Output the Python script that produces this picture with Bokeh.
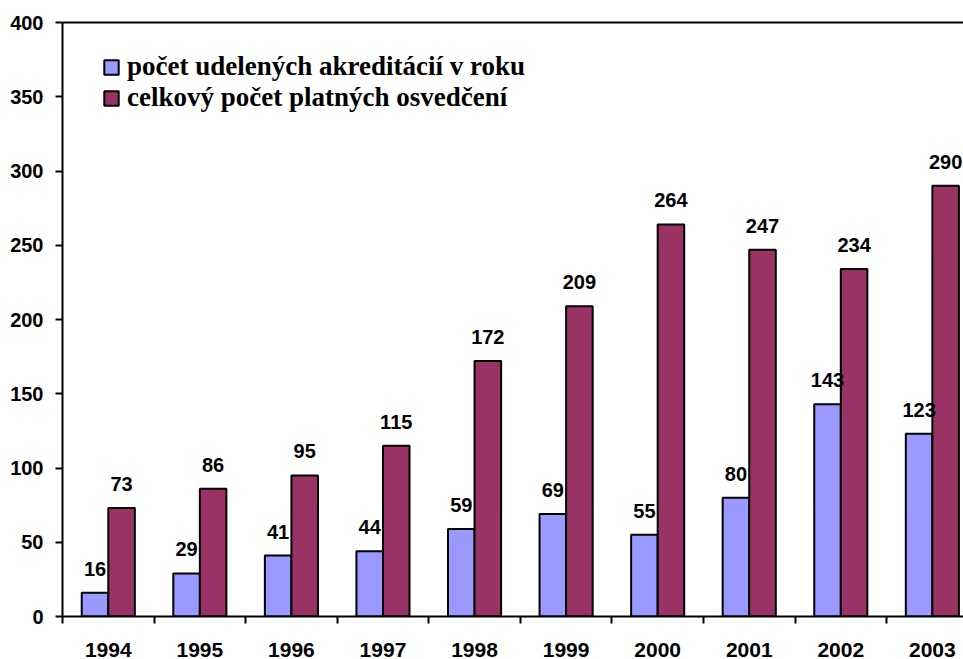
from bokeh.plotting import figure
from bokeh.models import (ColumnDataSource, Range1d, FixedTicker, LinearAxis,
                          CustomJSTickFormatter, LabelSet, Legend, LegendItem)
from bokeh.core.properties import value
from bokeh.embed import file_html
from bokeh.resources import INLINE

years = ["1994", "1995", "1996", "1997", "1998", "1999", "2000", "2001", "2002", "2003"]
accreditations = [16, 29, 41, 44, 59, 69, 55, 80, 143, 123]
certificates = [73, 86, 95, 115, 172, 209, 264, 247, 234, 290]
y_ticks = [0, 50, 100, 150, 200, 250, 300, 350, 400]
series_names = ["počet udelených akreditácií v roku", "celkový počet platných osvedčení"]
colors = ["#9999FF", "#993366"]

n = len(years)
centers = [i + 0.5 for i in range(n)]
bar_w = 0.29
src = ColumnDataSource(dict(
    xa=[c - bar_w / 2 for c in centers],
    xb=[c + bar_w / 2 for c in centers],
    a=accreditations, b=certificates,
    la=[str(v) for v in accreditations], lb=[str(v) for v in certificates],
))

p = figure(width=963, height=659, output_backend="svg", toolbar_location=None,
           x_range=Range1d(0, 9.84), y_range=Range1d(0, 400),
           min_border_left=62, min_border_right=0, min_border_top=22, min_border_bottom=41)
p.xgrid.visible = False
p.ygrid.visible = False
p.outline_line_color = None
p.background_fill_color = "white"

ra = p.vbar(x="xa", top="a", width=bar_w, source=src, fill_color=colors[0],
            line_color="black", line_width=2)
rb = p.vbar(x="xb", top="b", width=bar_w, source=src, fill_color=colors[1],
            line_color="black", line_width=2)

font = "Liberation Sans"
for col_x, col_y, col_t in (("xa", "a", "la"), ("xb", "b", "lb")):
    p.add_layout(LabelSet(x=col_x, y=col_y, text=col_t, source=src, y_offset=17,
                          text_align="center", text_baseline="alphabetic",
                          text_font=value(font), text_font_style="bold",
                          text_font_size="20px", text_color="black"))

# y axis
ya = p.yaxis[0]
ya.ticker = FixedTicker(ticks=y_ticks)
ya.axis_line_width = 2
ya.major_tick_line_width = 2
ya.major_tick_out = 7
ya.major_tick_in = 0
ya.minor_tick_line_color = None
ya.major_label_standoff = 12
ya.major_label_text_font = font
ya.major_label_text_font_style = "bold"
ya.major_label_text_font_size = "20px"
ya.major_label_text_color = "black"

# x axis
xa = p.xaxis[0]
xa.ticker = FixedTicker(ticks=centers, minor_ticks=list(range(n)))
xa.formatter = CustomJSTickFormatter(args=dict(years=years),
                                     code="return years[Math.floor(tick)] || '';")
xa.axis_line_width = 2
xa.major_tick_out = 0
xa.major_tick_in = 0
xa.minor_tick_out = 7
xa.minor_tick_in = 0
xa.minor_tick_line_width = 2
xa.minor_tick_line_color = "black"
xa.major_label_standoff = 19
xa.major_label_text_font = font
xa.major_label_text_font_style = "bold"
xa.major_label_text_font_size = "21px"
xa.major_label_text_color = "black"

# top frame line
top = LinearAxis(ticker=FixedTicker(ticks=[]), axis_line_width=2,
                 major_tick_out=0, major_tick_in=0, minor_tick_line_color=None,
                 major_label_text_font_size="0px")
p.add_layout(top, "above")

legend = Legend(items=[LegendItem(label=series_names[0], renderers=[ra]),
                       LegendItem(label=series_names[1], renderers=[rb])],
                location=(40, 503), padding=0, margin=0, spacing=0,
                glyph_width=18, glyph_height=18, label_height=28, label_standoff=7,
                label_text_font="Liberation Serif", label_text_font_style="bold",
                label_text_font_size="27px", label_text_color="black",
                border_line_color=None, background_fill_alpha=0)
p.add_layout(legend, "center")

open("out.html", "w").write(file_html(p, INLINE))
